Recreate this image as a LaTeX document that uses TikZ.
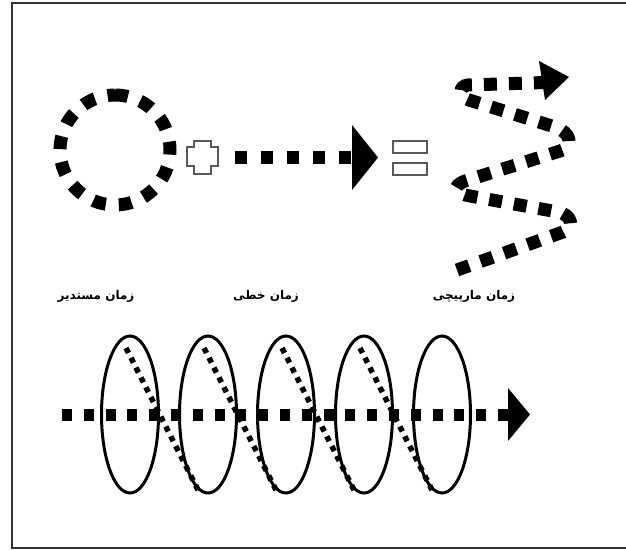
\documentclass[tikz,border=0pt]{standalone}
\usepackage{fontspec}
\newfontfamily\arabicfont[Script=Arabic]{DejaVu Sans}
\TeXXeTstate=1
\begin{document}
\begin{tikzpicture}[x=1pt,y=-1pt,
  frameline/.style={line width=1.5pt, draw=black!80},
  circdash/.style={line width=13pt, dash pattern=on 13pt off 13pt},
  lindash/.style={line width=13pt, dash pattern=on 12pt off 14pt},
  spidash/.style={line width=13pt, dash pattern=on 13pt off 12pt},
  axdash/.style={line width=12pt, dash pattern=on 10pt off 11.8pt},
  dotd/.style={line width=5.5pt, dash pattern=on 5.5pt off 5.5pt},
  ellline/.style={line width=3pt},
  outl/.style={draw=black!65, line width=1.2pt, fill=white},
  lab/.style={font=\arabicfont\bfseries\fontsize{12}{14}\selectfont, inner sep=0pt}
]
\useasboundingbox (0,0) rectangle (626,549);
\fill[white] (0,0) rectangle (626,549);
\draw[frameline] (640,3) -- (12,3) -- (12,548) -- (640,548);

% circle (cyclic time)
\coordinate (cc) at (115,150);
\draw[circdash] (115,95) arc[start angle=-90, end angle=270, radius=55];

% plus sign
\draw[outl] (194,141) -- (211,141) -- (211,147) -- (218,147) -- (218,166) -- (211,166)
  -- (211,174) -- (194,174) -- (194,166) -- (187,166) -- (187,147) -- (194,147) -- cycle;

% linear arrow
\coordinate (la) at (235,157.5);
\coordinate (lb) at (353,157.5);
\draw[lindash] (la) -- (lb);
\fill (352,125) -- (378,157.5) -- (352,190) -- cycle;

% equals sign
\draw[outl] (393,141) rectangle (427,153);
\draw[outl] (393,163) rectangle (427,175);

% spiral
\coordinate (s0) at (457,270);
\coordinate (a1) at (563,232);
\coordinate (b1) at (558,212);
\coordinate (a2) at (470,196);
\coordinate (b2) at (465,181);
\coordinate (a3) at (560,151);
\coordinate (b3) at (555,127);
\coordinate (a4) at (469,100);
\coordinate (b4) at (468,85);
\coordinate (s5) at (545,82.5);
\draw[spidash] (s0) -- (a1) .. controls (576,227.5) and (571,214.3) .. (b1)
  -- (a2) .. controls (455,193.3) and (451,186.7) .. (b2)
  -- (a3) .. controls (575,146.3) and (570,131.7) .. (b3)
  -- (a4) .. controls (459,97) and (458,86) .. (b4)
  -- (s5);
\fill (539,61) -- (569,77) -- (545,100) -- cycle;

% labels
\node[lab] (l1) at (96,296) {\beginR زمان مستدیر\endR};
\node[lab] (l2) at (266,296) {\beginR زمان خطی\endR};
\node[lab] (l3) at (474,296) {\beginR زمان مارپیچی\endR};

% helix
\foreach \i in {0,...,3}
  \draw[dotd] (126+78*\i,348) -- (198+78*\i,490);
\foreach \i in {0,...,4}
  \draw[ellline] (130+78*\i,414.5) ellipse [x radius=28.5, y radius=78.5];
\coordinate (xa) at (62,414.5);
\coordinate (xb) at (508,414.5);
\draw[axdash] (xa) -- (xb);
\fill (508,388) -- (530,414.5) -- (508,441) -- cycle;
\end{tikzpicture}
\end{document}
